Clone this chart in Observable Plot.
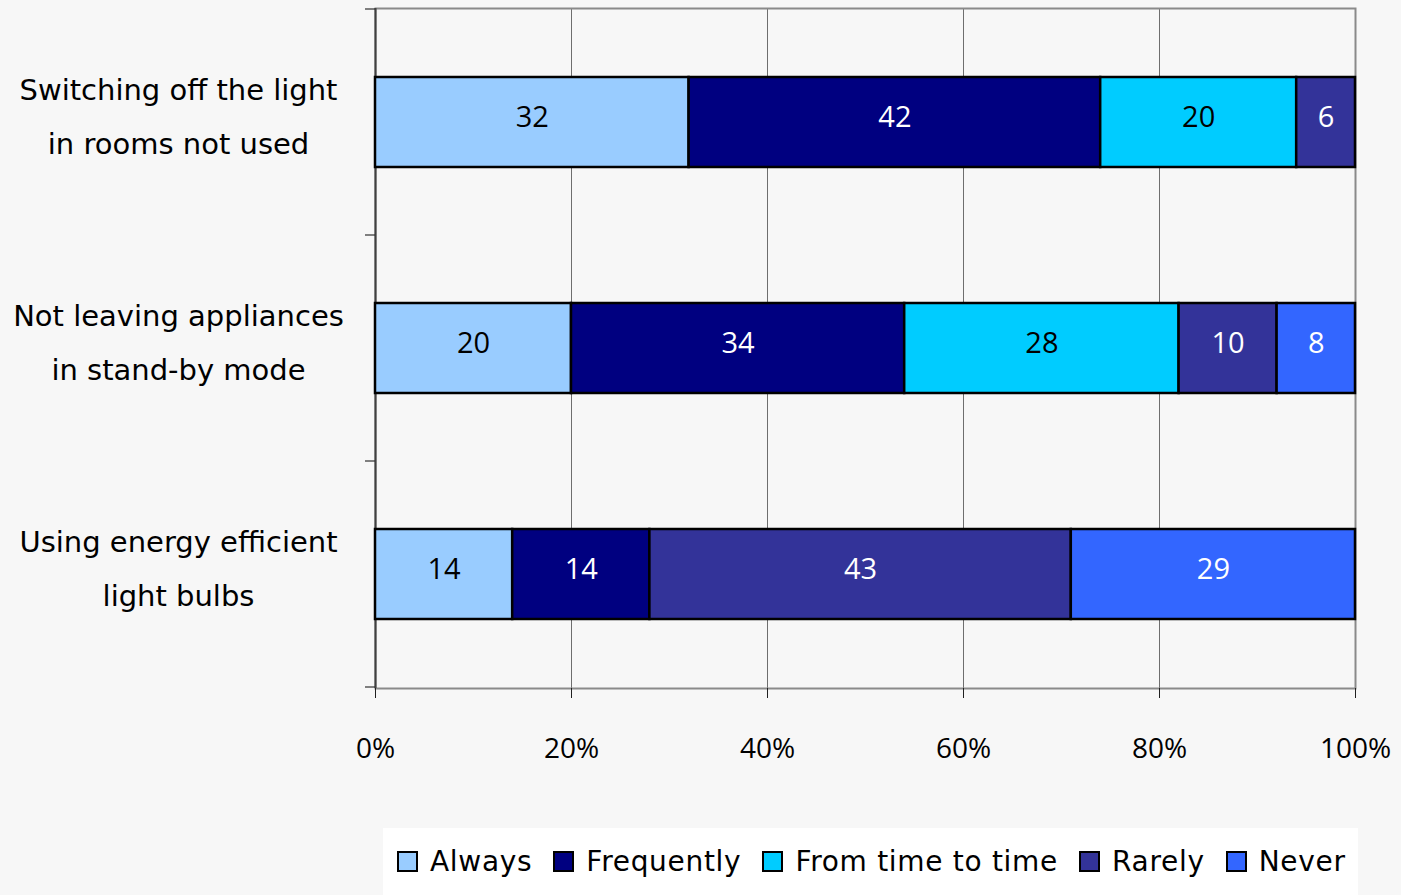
<!DOCTYPE html>
<html>
<head>
<meta charset="utf-8">
<script src="https://cdn.jsdelivr.net/npm/d3@7"></script>
<script src="https://cdn.jsdelivr.net/npm/@observablehq/plot@0.6"></script>
<style>
  body { margin: 0; background: #f7f7f7; width: 1401px; height: 895px; position: relative; overflow: hidden; }
  #chart svg { display: block; }
  #legend {
    position: absolute; left: 383px; top: 828px; width: 975px; height: 67px;
    background: #ffffff; display: flex; align-items: center; box-sizing: border-box;
    padding-left: 14px; font-family: "DejaVu Sans", sans-serif; font-size: 28px; color: #000;
    letter-spacing: 0.7px;
  }
  .item { display: flex; align-items: center; margin-right: 21px; white-space: nowrap; }
  .sw { width: 17px; height: 17px; border: 2px solid #000; margin-right: 12px; }
</style>
</head>
<body>
<div id="chart"></div>
<div id="legend"></div>
<script>
// Energy-saving habits: share of answers per frequency (percent)
const actions = [
  "Switching off the light\nin rooms not used",
  "Not leaving appliances\nin stand-by mode",
  "Using energy efficient\nlight bulbs"
];
const responses = ["Always", "Frequently", "From time to time", "Rarely", "Never"];
const colors = ["#99ccff", "#000080", "#00ccff", "#333399", "#3366ff"];

// values per action, in the order of `responses` (0 = not given)
const switchingOffLight = [32, 42, 20, 6, 0];
const noStandBy = [20, 34, 28, 10, 8];
const efficientBulbs = [14, 14, 0, 43, 29];

const xTicks = [0, 20, 40, 60, 80, 100];
const gridTicks = [20, 40, 60, 80];

const lightResponses = new Set(["Always", "From time to time"]);

const rows = [switchingOffLight, noStandBy, efficientBulbs];
const data = [];
rows.forEach((vals, i) => {
  vals.forEach((v, j) => {
    if (v > 0) data.push({action: actions[i], response: responses[j], value: v});
  });
});

const stackOpts = {x: "value", y: "action", z: "response", order: responses};
const labelFont = {fontSize: 29, fontFamily: "'Open Sans', sans-serif", dy: -5};

const plot = Plot.plot({
  width: 1401,
  height: 820,
  marginLeft: 375,
  marginRight: 46,
  marginTop: 8,
  marginBottom: 132,
  style: {background: "#f7f7f7", fontFamily: "'Open Sans', sans-serif", overflow: "visible"},
  x: {domain: [0, 100], nice: false},
  y: {domain: actions, paddingInner: 0.6, paddingOuter: 0.3},
  color: {domain: responses, range: colors},
  marks: [
    Plot.ruleX(gridTicks, {stroke: "#6e6e6e", strokeWidth: 1}),
    Plot.frame({stroke: "#8a8a8a", strokeWidth: 2}),
    Plot.ruleX([0], {stroke: "#404040", strokeWidth: 2}),
    Plot.barX(data, Plot.stackX({...stackOpts, fill: "response", stroke: "#000", strokeWidth: 2.5})),
    // dark text on the light segments, white text on the dark ones
    Plot.text(data, Plot.stackX({...stackOpts,
      text: d => lightResponses.has(d.response) ? String(d.value) : null,
      fill: "#000", ...labelFont})),
    Plot.text(data, Plot.stackX({...stackOpts,
      text: d => lightResponses.has(d.response) ? null : String(d.value),
      fill: "#fff", ...labelFont})),
    Plot.axisX({ticks: xTicks, tickFormat: d => d + "%", tickSize: 10, tickPadding: 40,
      stroke: "#202020", fontSize: 28, fontFamily: "'Open Sans', sans-serif", label: null}),
    Plot.axisY({tickSize: 0, tickPadding: 197, textAnchor: "middle", dy: -13,
      lineHeight: 1.88, fontSize: 29, fontFamily: "'DejaVu Sans', sans-serif", label: null})
  ]
});

// small ticks on the left axis at the band boundaries, placed with the y scale
const ys = plot.scale("y");
const half = (ys.step - ys.bandwidth) / 2;
const edges = actions.map(a => ys.apply(a) - half);
edges.push(ys.apply(actions[actions.length - 1]) + ys.bandwidth + half);
d3.select(plot).append("g")
  .attr("stroke", "#303030").attr("stroke-width", 1.2)
  .selectAll("line").data(edges).join("line")
  .attr("x1", 365).attr("x2", 375)
  .attr("y1", d => d).attr("y2", d => d);

document.getElementById("chart").append(plot);

// legend row
const legend = d3.select("#legend");
responses.forEach((r, i) => {
  const item = legend.append("div").attr("class", "item");
  item.append("div").attr("class", "sw").style("background", colors[i]);
  item.append("span").text(r);
});
</script>
</body>
</html>
